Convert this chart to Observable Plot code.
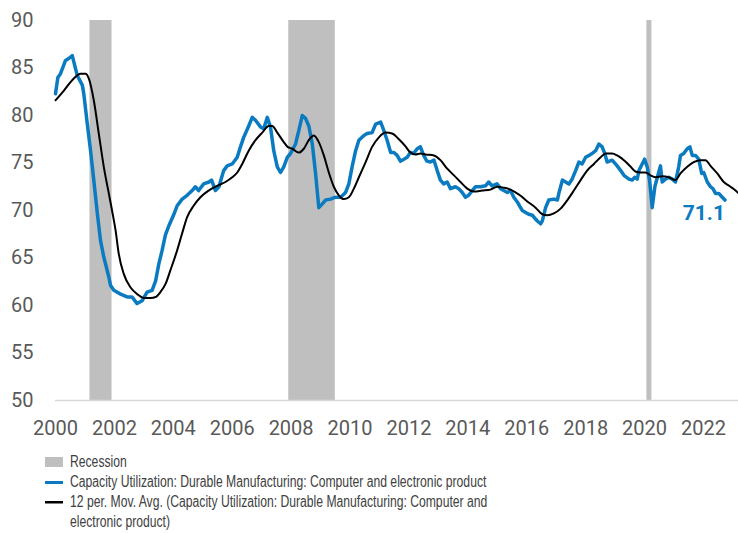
<!DOCTYPE html>
<html>
<head>
<meta charset="utf-8">
<script src="https://cdn.jsdelivr.net/npm/d3@7"></script>
<script src="https://cdn.jsdelivr.net/npm/@observablehq/plot@0.6"></script>
<style>
  html, body { margin: 0; padding: 0; background: #fff; }
  #chart { width: 738px; }
  .legend { font-family: "Liberation Sans", Arial, sans-serif; font-size: 16px; color: #404040; margin-left: 45px; margin-top: 12px; line-height: 20px; }
  .legend .item { display: flex; align-items: flex-start; }
  .legend .sw { flex: 0 0 18px; margin-right: 7px; }
  .legend .txt { display: inline-block; transform: scaleX(0.76); transform-origin: 0 0; white-space: nowrap; }
</style>
</head>
<body>
<div id="chart"></div>
<script>
// Capacity Utilization: Durable Manufacturing: Computer and electronic product (decimal year, %)
const capT = [2000.00,2000.08,2000.17,2000.34,2000.45,2000.57,2000.65,2000.74,2000.91,2000.96,
  2001.08,2001.19,2001.30,2001.42,2001.53,2001.64,2001.81,2001.87,2001.98,2002.21,2002.43,2002.60,2002.77,2002.94,
  2003.11,2003.28,2003.40,2003.51,2003.62,2003.73,2003.85,2004.02,2004.13,2004.30,2004.47,2004.64,2004.75,2004.86,
  2005.03,2005.21,2005.30,2005.43,2005.55,2005.71,2005.83,2006.00,2006.17,2006.28,2006.39,2006.56,2006.68,2006.79,2006.96,
  2007.07,2007.19,2007.30,2007.41,2007.53,2007.64,2007.75,2007.87,2007.98,2008.15,2008.26,2008.38,2008.49,2008.60,2008.72,2008.83,2008.94,
  2009.06,2009.17,2009.34,2009.51,2009.68,2009.85,2009.96,2010.07,2010.19,2010.30,2010.47,2010.58,2010.75,2010.87,
  2011.04,2011.15,2011.26,2011.38,2011.49,2011.60,2011.71,2011.83,2011.94,2012.05,2012.16,2012.28,2012.39,2012.50,2012.61,2012.73,2012.85,2012.96,
  2013.07,2013.18,2013.30,2013.41,2013.58,2013.69,2013.81,2013.92,2014.03,2014.15,2014.26,2014.43,2014.60,2014.71,2014.82,2014.99,
  2015.11,2015.22,2015.34,2015.45,2015.56,2015.68,2015.77,2015.85,2015.96,2016.07,2016.19,2016.30,2016.36,2016.47,2016.53,2016.64,2016.75,2016.92,
  2017.04,2017.09,2017.21,2017.32,2017.43,2017.54,2017.66,2017.77,2017.88,2018.00,2018.11,2018.22,2018.34,2018.45,2018.56,2018.65,2018.73,2018.90,
  2019.07,2019.19,2019.30,2019.47,2019.58,2019.67,2019.75,2019.81,2019.92,2020.00,2020.09,2020.17,2020.26,2020.35,2020.47,2020.54,2020.60,2020.71,2020.82,2020.94,
  2021.05,2021.16,2021.22,2021.33,2021.45,2021.54,2021.62,2021.73,2021.84,2021.94,2022.01,2022.13,2022.24,2022.32,2022.41,2022.52,2022.64,2022.73];
const capV = [82.3,84.0,84.4,85.8,86.0,86.3,85.3,84.2,83.2,82.3,
  79.1,76.3,73.2,69.7,66.8,65.1,63.0,62.1,61.6,61.2,60.9,60.9,60.2,60.5,
  61.4,61.6,62.6,64.4,65.8,67.4,68.4,69.6,70.5,71.2,71.6,72.1,72.5,72.1,
  72.8,73.0,73.2,72.1,72.5,74.2,74.7,74.9,75.6,76.7,77.7,78.9,79.8,79.5,78.8,
  78.6,79.8,78.8,76.3,74.6,74.0,74.6,75.6,76.0,77.0,78.4,80.0,79.7,78.9,77.0,73.9,70.3,
  70.7,71.1,71.2,71.4,71.4,71.9,72.8,74.6,76.3,77.4,77.9,78.1,78.2,79.1,
  79.3,78.4,77.4,76.1,76.1,75.8,75.2,75.4,75.6,76.1,76.0,76.5,76.7,75.8,75.2,75.1,75.3,74.2,
  73.2,72.8,73.0,72.3,72.5,72.3,71.9,71.4,71.6,72.1,72.5,72.5,72.6,73.0,72.6,72.8,
  72.3,72.1,71.9,72.1,71.4,70.9,70.4,70.0,69.8,69.6,69.5,69.1,68.9,68.6,68.9,70.3,71.1,71.2,
  71.1,71.8,73.2,73.0,72.8,73.3,74.2,75.1,74.9,75.6,75.8,76.0,76.3,77.0,76.7,76.0,75.1,75.3,
  74.7,74.2,73.7,73.3,73.2,73.5,73.3,74.2,74.9,75.4,74.6,73.2,70.3,72.5,73.9,74.7,73.0,73.3,73.5,73.3,
  73.0,74.6,75.8,76.0,76.5,76.7,75.8,75.8,75.4,73.9,74.0,73.0,72.5,72.3,71.8,71.8,71.4,71.1];

// 12 per. Mov. Avg.
const maT = [2000.00,2000.28,2000.62,2000.85,2001.02,2001.13,2001.30,2001.47,2001.64,2001.81,2001.92,2002.04,2002.15,2002.32,2002.55,2002.77,
  2003.00,2003.23,2003.40,2003.56,2003.74,2003.90,2004.13,2004.30,2004.47,2004.69,2004.92,2005.20,2005.49,2005.77,2006.00,2006.17,2006.34,2006.56,2006.79,
  2007.02,2007.24,2007.36,2007.53,2007.75,2007.88,2008.04,2008.26,2008.43,2008.60,2008.77,2008.94,2009.11,2009.28,2009.45,2009.62,2009.79,2009.96,
  2010.13,2010.30,2010.53,2010.75,2010.98,2011.21,2011.43,2011.66,2011.87,2012.05,2012.22,2012.39,2012.56,2012.85,2013.07,2013.30,2013.53,2013.75,2013.98,
  2014.21,2014.49,2014.77,2015.00,2015.22,2015.45,2015.62,2015.77,2016.00,2016.30,2016.53,2016.70,2016.92,2017.15,2017.38,2017.60,2017.83,
  2018.05,2018.28,2018.51,2018.68,2018.90,2019.07,2019.30,2019.53,2019.69,2019.86,2020.03,2020.20,2020.37,2020.60,2020.82,
  2021.05,2021.22,2021.45,2021.67,2021.90,2022.07,2022.24,2022.47,2022.69,2022.92,2023.09,2023.19];
const maV = [81.6,82.6,83.9,84.4,84.4,83.9,81.6,78.1,74.6,71.8,70.0,67.9,65.4,63.3,61.9,61.2,
  60.8,60.8,60.9,61.4,62.3,63.7,65.8,67.6,69.3,70.5,71.4,72.1,72.6,73.0,73.5,74.0,74.9,76.3,77.4,
  78.2,78.9,78.9,78.2,77.2,76.7,76.5,76.1,76.5,77.4,77.9,77.2,75.8,74.0,72.5,71.6,71.2,71.4,
  72.3,73.5,75.1,76.7,77.7,78.2,78.1,77.5,76.8,76.1,75.9,76.0,75.9,75.8,75.3,74.4,73.7,73.0,72.3,
  72.0,72.1,72.2,72.5,72.4,72.2,71.9,71.6,71.0,70.3,69.6,69.5,69.7,70.2,71.1,72.1,73.2,
  74.2,74.9,75.6,76.0,76.0,75.8,75.3,74.6,74.1,74.0,74.0,73.7,73.5,73.6,73.5,
  73.2,73.9,74.6,75.1,75.3,75.3,74.7,73.9,73.0,72.5,72.1,71.8];

// Recessions
const recStart = [2001.17, 2007.92, 2020.08];
const recEnd   = [2001.92, 2009.50, 2020.25];

const yTicks = [50, 55, 60, 65, 70, 75, 80, 85, 90];
const xTicks = [2000, 2002, 2004, 2006, 2008, 2010, 2012, 2014, 2016, 2018, 2020, 2022];
const lastLabel = "71.1";

const cap = capT.map((t, i) => ({t, v: capV[i]}));
const ma = maT.map((t, i) => ({t, v: maV[i]}));
const rec = recStart.map((s, i) => ({s, e: recEnd[i]}));
const last = cap[cap.length - 1];

const BLUE = "#0a7bc1";

const chart = Plot.plot({
  width: 738,
  height: 440,
  marginLeft: 55,
  marginRight: 0,
  marginTop: 20,
  marginBottom: 40,
  style: {fontFamily: "Roboto, sans-serif", fontSize: "20px", color: "#595959", background: "#fff"},
  x: {domain: [2000, 2023.19], ticks: xTicks, tickFormat: d => String(d), tickSize: 0, tickPadding: 20, label: null},
  y: {domain: [50, 90], ticks: yTicks, tickSize: 0, tickPadding: 22, label: null},
  marks: [
    Plot.rect(rec, {x1: "s", x2: "e", fill: "#bfbfbf"}),
    Plot.ruleY([50], {stroke: "#d9d9d9", strokeWidth: 1.5}),
    Plot.line(cap, {x: "t", y: "v", stroke: BLUE, strokeWidth: 3.5, strokeLinejoin: "round"}),
    Plot.line(ma, {x: "t", y: "v", stroke: "#000", strokeWidth: 2, curve: "monotone-x"}),
    Plot.text([last], {x: "t", y: "v", text: () => lastLabel, fill: BLUE, fontWeight: "bold", fontSize: 21, textAnchor: "end", dy: 13})
  ]
});
document.getElementById("chart").appendChild(chart);

const legend = document.createElement("div");
legend.className = "legend";
legend.innerHTML = `
  <div class="item"><svg class="sw" width="18" height="20"><rect x="0" y="5" width="18" height="10" fill="#bfbfbf"/></svg><span class="txt">Recession</span></div>
  <div class="item"><svg class="sw" width="18" height="20"><rect x="0" y="9" width="18" height="3" fill="${BLUE}"/></svg><span class="txt">Capacity Utilization: Durable Manufacturing: Computer and electronic product</span></div>
  <div class="item"><svg class="sw" width="18" height="20"><rect x="0" y="9" width="18" height="2.5" fill="#000"/></svg><span class="txt">12 per. Mov. Avg. (Capacity Utilization: Durable Manufacturing: Computer and<br>electronic product)</span></div>`;
document.getElementById("chart").appendChild(legend);
</script>
</body>
</html>
